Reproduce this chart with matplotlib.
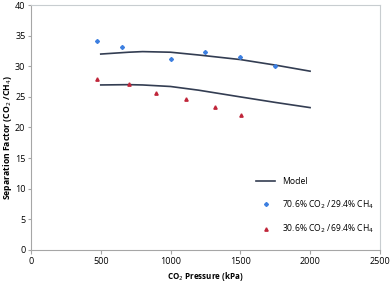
import matplotlib
matplotlib.use("Agg")
import matplotlib.pyplot as plt

# model curves
model_x = [500, 700, 800, 1000, 1200, 1500, 1750, 2000]
model_hi = [32.0, 32.3, 32.4, 32.3, 31.85, 31.1, 30.2, 29.2]
model_lo = [26.95, 27.0, 26.95, 26.7, 26.1, 25.0, 24.1, 23.25]

# measured points
p_hi = [475, 650, 1000, 1250, 1500, 1750]
s_hi = [34.2, 33.1, 31.2, 32.4, 31.5, 30.0]
p_lo = [475, 705, 895, 1112, 1317, 1505]
s_lo = [28.0, 27.05, 25.7, 24.6, 23.35, 22.1]

plt.rcParams['font.family'] = ['Open Sans', 'DejaVu Sans']

fig = plt.figure(figsize=(3.92, 2.83), dpi=100)
ax = fig.add_axes([0.079, 0.117, 0.890, 0.865])

ax.plot(model_x, model_hi, color='#333d52', lw=1.2, label='Model')
ax.plot(model_x, model_lo, color='#333d52', lw=1.2)
ax.plot(p_hi, s_hi, ls='none', marker='D', ms=2.0, color='#3d7fe0',
        label='70.6% CO$_2$ /29.4% CH$_4$')
ax.plot(p_lo, s_lo, ls='none', marker='^', ms=2.4, color='#c0263a',
        label='30.6% CO$_2$ /69.4% CH$_4$')

ax.set_xlim(0, 2500)
ax.set_ylim(0, 40)
ax.set_xticks(range(0, 2501, 500))
ax.set_yticks(range(0, 41, 5))
ax.tick_params(labelsize=6.5, length=3, color='#a6a6a6', pad=2)
ax.tick_params(axis='y', length=2.5, pad=1.5)
for s in ax.spines.values():
    s.set_color('#c8cdd0')
ax.spines['left'].set_color('#a6a6a6')
ax.spines['bottom'].set_color('#a6a6a6')

ax.set_xlabel('CO$_2$ Pressure (kPa)', fontsize=5.8, fontweight='bold', labelpad=3)
ax.set_ylabel('Separation Factor (CO$_2$ /CH$_4$)', fontsize=6.2, fontweight='bold')
ax.yaxis.set_label_coords(-0.05, 0.46)

ax.legend(loc='lower right', bbox_to_anchor=(1.0, 0.035), frameon=False,
          fontsize=6.2, handlelength=2.2, labelspacing=1.4, borderaxespad=0.3)

fig.savefig('out.png', dpi=100)
